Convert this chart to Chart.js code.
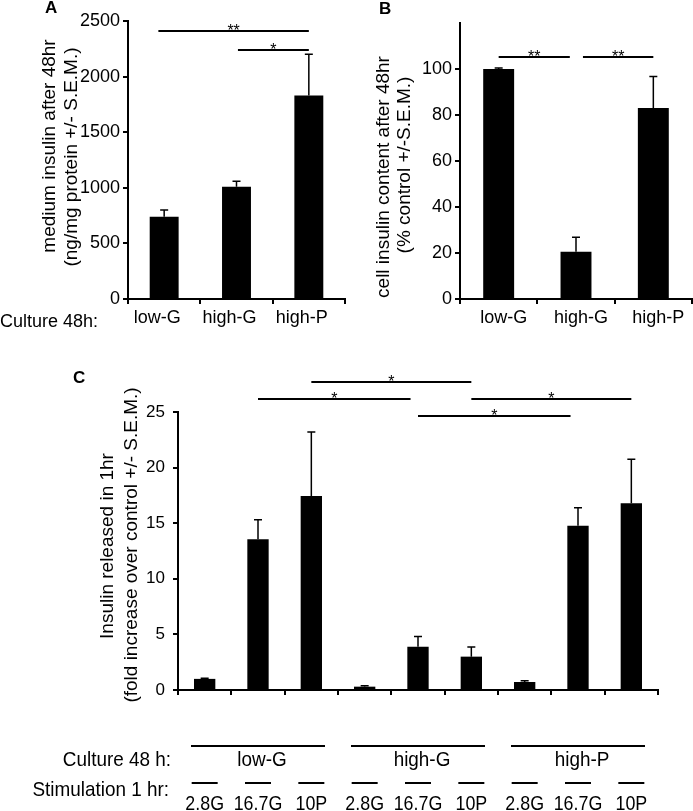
<!DOCTYPE html>
<html>
<head>
<meta charset="utf-8">
<script src="https://cdn.jsdelivr.net/npm/chart.js@4.4.1/dist/chart.umd.min.js"></script>
<style>
  body { margin: 0; background: #fff; }
  #wrap { position: relative; width: 693px; height: 811px; overflow: hidden; }
  canvas { position: absolute; }
</style>
</head>
<body>
<div id="wrap">
  <canvas id="chartA" width="350" height="345" style="left:0;top:0"></canvas>
  <canvas id="chartB" width="348" height="345" style="left:345px;top:0"></canvas>
  <canvas id="chartC" width="693" height="456" style="left:0;top:355px"></canvas>
</div>
<script>
// data
var culture = ['low-G', 'high-G', 'high-P'];
var mediumInsulin = [740, 1010, 1830];
var mediumSem = [60, 50, 370];
var cellContent = [100, 20.5, 83];
var cellSem = [0.4, 6.3, 13.7];
var stimulation = ['2.8G', '16.7G', '10P', '2.8G', '16.7G', '10P', '2.8G', '16.7G', '10P'];
var released = [1.0, 13.55, 17.45, 0.3, 3.9, 3.0, 0.72, 14.78, 16.8];
var releasedSem = [0.05, 1.75, 5.75, 0.08, 0.9, 0.87, 0.12, 1.6, 3.95];

// significance bars: [from category, to category, y value, stars]
var sigA = [[-0.08, 2, 2410, '**'], [1.02, 2, 2240, '*']];
var sigB = [[0, 0.92, 105.3, '**'], [1.09, 2, 105.3, '**']];
var sigC = [[2, 5, 27.7, '*'], [1, 3.86, 26.2, '*'], [5, 8, 26.15, '*'], [4, 6.86, 24.65, '*']];

var FONT = "'Liberation Sans', Arial, sans-serif";

function vText(ctx, txt, x, y, font) {
  ctx.save();
  ctx.translate(x, y);
  ctx.rotate(-Math.PI / 2);
  ctx.font = font;
  ctx.textAlign = 'center';
  ctx.textBaseline = 'middle';
  ctx.fillText(txt, 0, 0);
  ctx.restore();
}

// narrow looking text (the figure uses a condensed face down there)
function sText(ctx, txt, x, y, align, sx) {
  ctx.save();
  ctx.translate(x, y);
  ctx.scale(sx, 1);
  ctx.textAlign = align;
  ctx.fillText(txt, 0, 0);
  ctx.restore();
}

// draws error bars, significance lines and the loose text of a panel
function extras(cfg) {
  return {
    id: 'extras',
    afterDatasetsDraw: function (chart) {
      var ctx = chart.ctx, x = chart.scales.x, y = chart.scales.y;
      var vals = chart.data.datasets[0].data;
      ctx.save();
      ctx.strokeStyle = '#000';
      ctx.fillStyle = '#000';
      ctx.lineWidth = 1.5;
      vals.forEach(function (v, i) {
        var cx = x.getPixelForValue(i);
        var y0 = y.getPixelForValue(v), y1 = y.getPixelForValue(v + cfg.sem[i]);
        ctx.beginPath();
        ctx.moveTo(cx, y0); ctx.lineTo(cx, y1);
        ctx.moveTo(cx - 4, y1); ctx.lineTo(cx + 4, y1);
        ctx.stroke();
      });
      ctx.lineWidth = 2;
      ctx.font = '16px ' + FONT;
      ctx.textAlign = 'center';
      ctx.textBaseline = 'alphabetic';
      cfg.sig.forEach(function (s) {
        var xa = x.getPixelForValue(s[0]), xb = x.getPixelForValue(s[1]);
        var yy = Math.round(y.getPixelForValue(s[2]));
        ctx.beginPath(); ctx.moveTo(xa, yy); ctx.lineTo(xb, yy); ctx.stroke();
        ctx.fillText(s[3], (xa + xb) / 2, yy + 5);
      });
      // panel letter
      ctx.font = 'bold 17px ' + FONT;
      ctx.textAlign = 'left';
      ctx.fillText(cfg.letter[0], cfg.letter[1], cfg.letter[2]);
      // axis title
      vText(ctx, cfg.title[0], cfg.titlePos[0], cfg.titlePos[1], '19px ' + FONT);
      vText(ctx, cfg.title[1], cfg.titlePos[2], cfg.titlePos[3], '19px ' + FONT);
      if (cfg.more) cfg.more(ctx, x, y);
      ctx.restore();
    }
  };
}

function makeChart(id, labels, values, cfg) {
  return new Chart(document.getElementById(id), {
    type: 'bar',
    data: {
      labels: labels,
      datasets: [{
        data: values,
        backgroundColor: '#000',
        borderWidth: 0,
        barPercentage: 0.4,
        categoryPercentage: 1
      }]
    },
    options: {
      responsive: false,
      animation: false,
      layout: { padding: { top: cfg.top, right: cfg.right, left: 0, bottom: 0 } },
      plugins: { legend: { display: false }, tooltip: { enabled: false } },
      scales: {
        x: {
          offset: true,
          ticks: {
            color: '#000', padding: 3, maxRotation: 0, autoSkip: false,
            labelOffset: cfg.labelShift || 0,
            font: { family: FONT, size: 18 },
            callback: function (v, i) { return cfg.xLabels ? labels[i] : ''; }
          },
          grid: { offset: true, drawOnChartArea: false, tickLength: 5, color: '#000', tickColor: '#000', lineWidth: 2 },
          border: { color: '#000', width: 2 },
          afterFit: function (s) { s.height = cfg.bottomH; }
        },
        y: {
          min: 0, max: cfg.max,
          ticks: {
            stepSize: cfg.step, color: '#000', padding: cfg.tickPad,
            font: { family: FONT, size: cfg.tickSize },
            callback: function (v) { return v > cfg.lastLabel ? '' : v; }
          },
          grid: {
            drawOnChartArea: false, tickLength: 5, color: '#000', lineWidth: 2,
            tickColor: function (c) { return c.tick && c.tick.value > cfg.lastLabel ? 'rgba(0,0,0,0)' : '#000'; }
          },
          border: { color: '#000', width: 2 },
          afterFit: function (s) { s.width = cfg.left; }
        }
      }
    },
    plugins: [extras(cfg)]
  });
}

makeChart('chartA', culture, mediumInsulin, {
  top: 21, right: 5, left: 128, bottomH: 46, labelShift: -7,
  max: 2500, step: 500, lastLabel: 2500, tickSize: 18, tickPad: 3, xLabels: true,
  sem: mediumSem, sig: sigA,
  letter: ['A', 45, 13],
  title: ['medium insulin after 48hr', '(ng/mg protein +/- S.E.M.)'],
  titlePos: [50, 146, 72, 157],
  more: function (ctx) {
    ctx.font = '18px ' + FONT;
    ctx.textAlign = 'left';
    ctx.fillText('Culture 48h:', 0, 327);
  }
});

makeChart('chartB', culture, cellContent, {
  top: 23, right: 1, left: 115, bottomH: 46, labelShift: 5,
  max: 120, step: 20, lastLabel: 100, tickSize: 18, tickPad: 3, xLabels: true,
  sem: cellSem, sig: sigB,
  letter: ['B', 34, 14],
  title: ['cell insulin content after 48hr', '(% control +/-S.E.M.)'],
  titlePos: [39, 177, 60, 165]
});

makeChart('chartC', stimulation, released, {
  top: 57, right: 35, left: 178, bottomH: 121,
  max: 25, step: 5, lastLabel: 25, tickSize: 17, tickPad: 8, xLabels: false,
  sem: releasedSem, sig: sigC,
  letter: ['C', 73, 28],
  title: ['Insulin released in 1hr', '(fold increase over control +/- S.E.M.)'],
  titlePos: [108, 191, 132, 190],
  more: function (ctx, x) {
    ctx.lineWidth = 2;
    ctx.font = '21px ' + FONT;
    sText(ctx, 'Culture 48 h:', 171, 411, 'right', 0.9);
    sText(ctx, 'Stimulation 1 hr:', 169, 441, 'right', 0.9);
    culture.forEach(function (g, k) {
      var cx = x.getPixelForValue(k * 3 + 1);
      ctx.beginPath(); ctx.moveTo(cx - 67, 391); ctx.lineTo(cx + 67, 391); ctx.stroke();
      sText(ctx, g, cx + 4, 411, 'center', 0.9);
    });
    stimulation.forEach(function (s, i) {
      var cx = x.getPixelForValue(i);
      ctx.beginPath(); ctx.moveTo(cx - 13, 428); ctx.lineTo(cx + 13, 428); ctx.stroke();
      sText(ctx, s, cx, 455, 'center', 0.85);
    });
  }
});
</script>
</body>
</html>
